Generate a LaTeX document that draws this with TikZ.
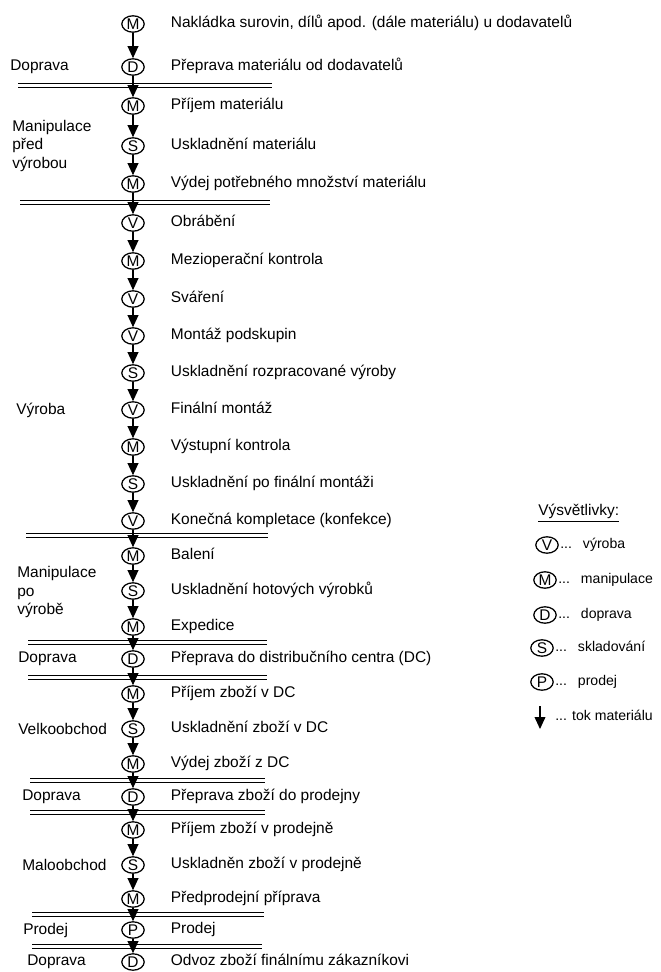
\documentclass[tikz,border=0pt]{standalone}
\usepackage{fontspec}
\setmainfont{Liberation Sans}
\usetikzlibrary{positioning,shapes.geometric,arrows.meta}

\begin{document}
\begin{tikzpicture}[x=0.025cm,y=-0.025cm,
  font=\fontsize{11}{13.5}\selectfont,
  op/.style={draw,ellipse,line width=0.9pt,inner xsep=0pt,inner ysep=-1.5pt,
    font=\fontsize{11}{11}\selectfont,text height=7.9pt,text depth=0pt,
    minimum width=0.56cm,minimum height=0.41cm},
  desc/.style={inner sep=0pt,text height=8pt,text depth=2.5pt},
  lab/.style={anchor=west,inner sep=0pt,align=left},
  key/.style={desc,font=\fontsize{10}{12}\selectfont},
  flow/.style={line width=0.8pt,-{Triangle[width=2.7mm,length=3mm]}},
  barhi/.style={line width=1.4pt},
  barlo/.style={line width=0.7pt}]

\useasboundingbox (0,0) rectangle (661,972);

\node[op] (c1) at (133,24) {M};
\node[desc,right=6.45mm of c1] (t1) {Nakládka surovin, dílů apod. (dále materiálu) u dodavatelů};
\node[op] (c2) at (133,67) {D};
\node[desc,right=6.45mm of c2] (t2) {Přeprava materiálu od dodavatelů};
\node[op] (c3) at (133,106) {M};
\node[desc,right=6.45mm of c3] (t3) {Příjem materiálu};
\node[op] (c4) at (133,146) {S};
\node[desc,right=6.45mm of c4] (t4) {Uskladnění materiálu};
\node[op] (c5) at (133,184) {M};
\node[desc,right=6.45mm of c5] (t5) {Výdej potřebného množství materiálu};
\node[op] (c6) at (133,223) {V};
\node[desc,right=6.45mm of c6] (t6) {Obrábění};
\node[op] (c7) at (133,261) {M};
\node[desc,right=6.45mm of c7] (t7) {Mezioperační kontrola};
\node[op] (c8) at (133,299) {V};
\node[desc,right=6.45mm of c8] (t8) {Sváření};
\node[op] (c9) at (133,336) {V};
\node[desc,right=6.45mm of c9] (t9) {Montáž podskupin};
\node[op] (c10) at (133,373) {S};
\node[desc,right=6.45mm of c10] (t10) {Uskladnění rozpracované výroby};
\node[op] (c11) at (133,410) {V};
\node[desc,right=6.45mm of c11] (t11) {Finální montáž};
\node[op] (c12) at (133,447) {M};
\node[desc,right=6.45mm of c12] (t12) {Výstupní kontrola};
\node[op] (c13) at (133,484) {S};
\node[desc,right=6.45mm of c13] (t13) {Uskladnění po finální montáži};
\node[op] (c14) at (133,521) {V};
\node[desc,right=6.45mm of c14] (t14) {Konečná kompletace (konfekce)};
\node[op] (c15) at (133,556) {M};
\node[desc,right=6.45mm of c15] (t15) {Balení};
\node[op] (c16) at (133,591) {S};
\node[desc,right=6.45mm of c16] (t16) {Uskladnění hotových výrobků};
\node[op] (c17) at (133,627) {M};
\node[desc,right=6.45mm of c17] (t17) {Expedice};
\node[op] (c18) at (133,659) {D};
\node[desc,right=6.45mm of c18] (t18) {Přeprava do distribučního centra (DC)};
\node[op] (c19) at (133,694) {M};
\node[desc,right=6.45mm of c19] (t19) {Příjem zboží v DC};
\node[op] (c20) at (133,729) {S};
\node[desc,right=6.45mm of c20] (t20) {Uskladnění zboží v DC};
\node[op] (c21) at (133,764) {M};
\node[desc,right=6.45mm of c21] (t21) {Výdej zboží z DC};
\node[op] (c22) at (133,797) {D};
\node[desc,right=6.45mm of c22] (t22) {Přeprava zboží do prodejny};
\node[op] (c23) at (133,830) {M};
\node[desc,right=6.45mm of c23] (t23) {Příjem zboží v prodejně};
\node[op] (c24) at (133,865) {S};
\node[desc,right=6.45mm of c24] (t24) {Uskladněn zboží v prodejně};
\node[op] (c25) at (133,899) {M};
\node[desc,right=6.45mm of c25] (t25) {Předprodejní příprava};
\node[op] (c26) at (133,930) {P};
\node[desc,right=6.45mm of c26] (t26) {Prodej};
\node[op] (c27) at (133,962) {D};
\node[desc,right=6.45mm of c27] (t27) {Odvoz zboží finálnímu zákazníkovi};

\node[lab] (l1) at (10,67) {Doprava};
\node[lab] (l2) at (12,146) {Manipulace\\před\\výrobou};
\node[lab] (l3) at (16,410) {Výroba};
\node[lab] (l4) at (17,592) {Manipulace\\po\\výrobě};
\node[lab] (l5) at (18,659) {Doprava};
\node[lab] (l6) at (18,729) {Velkoobchod};
\node[lab] (l7) at (22,797) {Doprava};
\node[lab] (l8) at (22,865) {Maloobchod};
\node[lab] (l9) at (23,930) {Prodej};
\node[lab] (l10) at (27,962) {Doprava};

\draw[barhi] (18,83.5) -- (272,83.5);  \draw[barlo] (18,87) -- (272,87);
\draw[barhi] (20,200.5) -- (270,200.5); \draw[barlo] (20,204) -- (270,204);
\draw[barhi] (26,533.5) -- (268,533.5); \draw[barlo] (26,537) -- (268,537);
\draw[barhi] (28,640.5) -- (267,640.5); \draw[barlo] (28,644) -- (267,644);
\draw[barhi] (28,675.5) -- (267,675.5); \draw[barlo] (28,679) -- (267,679);
\draw[barhi] (30,778.5) -- (265,778.5); \draw[barlo] (30,782) -- (265,782);
\draw[barhi] (30,810.5) -- (265,810.5); \draw[barlo] (30,814) -- (265,814);
\draw[barhi] (32,912.5) -- (264,912.5); \draw[barlo] (32,916) -- (264,916);
\draw[barhi] (32,944.5) -- (262,944.5); \draw[barlo] (32,948) -- (262,948);

\draw[flow] (c1) -- (c2);
\draw[flow] (c2) -- (c3);
\draw[flow] (c3) -- (c4);
\draw[flow] (c4) -- (c5);
\draw[flow] (c5) -- (c6);
\draw[flow] (c6) -- (c7);
\draw[flow] (c7) -- (c8);
\draw[flow] (c8) -- (c9);
\draw[flow] (c9) -- (c10);
\draw[flow] (c10) -- (c11);
\draw[flow] (c11) -- (c12);
\draw[flow] (c12) -- (c13);
\draw[flow] (c13) -- (c14);
\draw[flow] (c14) -- (c15);
\draw[flow] (c15) -- (c16);
\draw[flow] (c16) -- (c17);
\draw[flow] (c17) -- (c18);
\draw[flow] (c18) -- (c19);
\draw[flow] (c19) -- (c20);
\draw[flow] (c20) -- (c21);
\draw[flow] (c21) -- (c22);
\draw[flow] (c22) -- (c23);
\draw[flow] (c23) -- (c24);
\draw[flow] (c24) -- (c25);
\draw[flow] (c25) -- (c26);
\draw[flow] (c26) -- (c27);

\node[lab] (leg) at (538,513) {\underline{Výsvětlivky:}};
\node[op] (kv) at (547,545) {V};
\node[key,right=0.3mm of kv] (kvt) {...\enspace\ výroba};
\node[op] (km) at (545,580) {M};
\node[key,right=0.3mm of km] (kmt) {...\enspace\ manipulace};
\node[op] (kd) at (545,615) {D};
\node[key,right=0.3mm of kd] (kdt) {...\enspace\ doprava};
\node[op] (ks) at (542,648) {S};
\node[key,right=0.3mm of ks] (kst) {...\enspace\ skladování};
\node[op] (kp) at (542,682) {P};
\node[key,right=0.3mm of kp] (kpt) {...\enspace\ prodej};
\coordinate (ka) at (540,706);
\coordinate (kb) at (540,729);
\draw[flow] (ka) -- (kb);
\node[key,anchor=west] (kft) at (555,717) {... tok materiálu};

\end{tikzpicture}
\end{document}
